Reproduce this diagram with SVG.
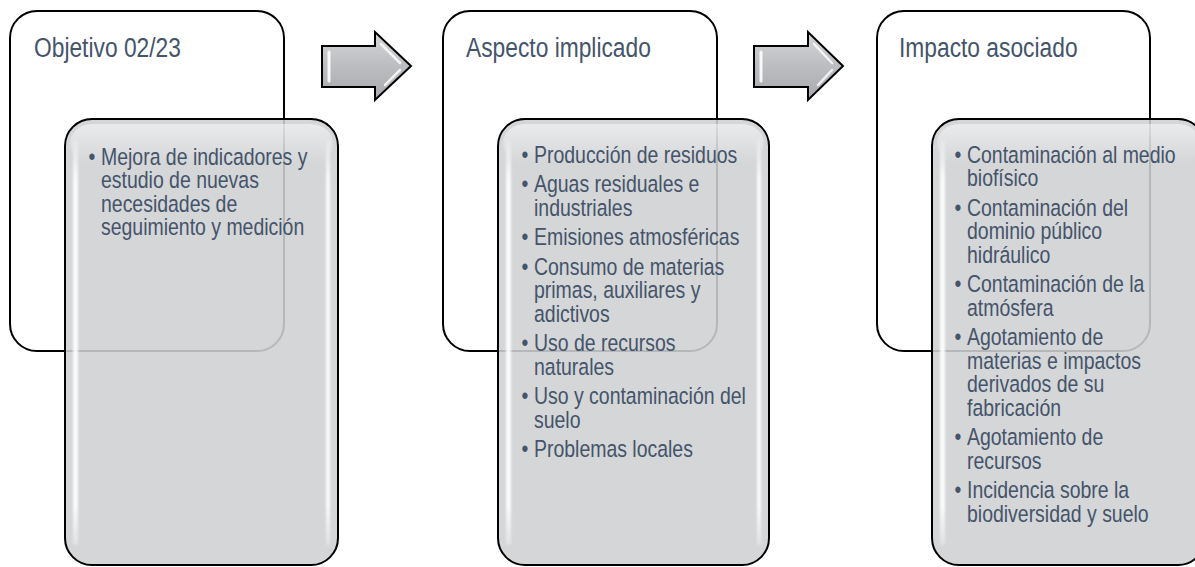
<svg xmlns="http://www.w3.org/2000/svg" width="1195" height="567" viewBox="0 0 1195 567">
<style>
.wbox{fill:#ffffff;stroke:#000000;stroke-width:2}
.gbox{fill:#cfd0d3;fill-opacity:0.88;stroke:#000000;stroke-width:2}
.title{font-family:"Liberation Sans",Arial,sans-serif;font-size:28px;fill:#44546a}
.body{font-family:"Liberation Sans",Arial,sans-serif;font-size:23.5px;fill:#44546a}
.arrow{fill:url(#ag);stroke:#000000;stroke-width:2;stroke-linejoin:miter}
</style>
<defs>
<linearGradient id="ag" x1="0" y1="0" x2="0" y2="1">
<stop offset="0" stop-color="#d6d7d9"/>
<stop offset="0.5" stop-color="#bcbdc0"/>
<stop offset="1" stop-color="#a9aaad"/>
</linearGradient>
<linearGradient id="vg" x1="0" y1="0" x2="0" y2="1">
<stop offset="0" stop-color="#ffffff" stop-opacity="0.2"/>
<stop offset="0.1" stop-color="#ffffff" stop-opacity="0.9"/>
<stop offset="0.9" stop-color="#ffffff" stop-opacity="0.9"/>
<stop offset="1" stop-color="#ffffff" stop-opacity="0.3"/>
</linearGradient>
<linearGradient id="tg" x1="0" y1="0" x2="0" y2="1">
<stop offset="0" stop-color="#ffffff" stop-opacity="0.5"/>
<stop offset="1" stop-color="#ffffff" stop-opacity="0"/>
</linearGradient>
<filter id="blur" x="-50%" y="-5%" width="200%" height="110%"><feGaussianBlur stdDeviation="1"/></filter>
</defs>

<g id="col1">
<rect class="wbox" x="10" y="11" width="274" height="340" rx="27"/>
<text class="title" transform="translate(34,57) scale(0.814,1)">Objetivo 02/23</text>
<rect class="gbox" x="65" y="119" width="273" height="446" rx="27"/>
<rect x="70" y="124" width="263" height="40" rx="22" fill="url(#tg)"/>
<rect x="73" y="140" width="5" height="405" rx="2.5" fill="url(#vg)" filter="url(#blur)"/>
<rect x="326" y="140" width="4" height="405" rx="2" fill="url(#vg)" filter="url(#blur)"/>
<g class="body" transform="translate(101,0) scale(0.828,1)">
<text x="-15" y="165">•</text><text x="0" y="165">Mejora de indicadores y</text>
<text x="0" y="188.5">estudio de nuevas</text>
<text x="0" y="212">necesidades de</text>
<text x="0" y="235.5">seguimiento y medición</text>
</g>
</g>

<g id="col2">
<rect class="wbox" x="443" y="11" width="274" height="340" rx="27"/>
<text class="title" transform="translate(466,57) scale(0.814,1)">Aspecto implicado</text>
<rect class="gbox" x="498" y="119" width="271" height="446" rx="27"/>
<rect x="503" y="124" width="261" height="40" rx="22" fill="url(#tg)"/>
<rect x="506" y="140" width="5" height="405" rx="2.5" fill="url(#vg)" filter="url(#blur)"/>
<rect x="757" y="140" width="4" height="405" rx="2" fill="url(#vg)" filter="url(#blur)"/>
<g class="body" transform="translate(534,0) scale(0.828,1)">
<text x="-15" y="163">•</text><text x="0" y="163">Producción de residuos</text>
<text x="-15" y="192.5">•</text><text x="0" y="192.5">Aguas residuales e</text>
<text x="0" y="216">industriales</text>
<text x="-15" y="245.5">•</text><text x="0" y="245.5">Emisiones atmosféricas</text>
<text x="-15" y="275">•</text><text x="0" y="275">Consumo de materias</text>
<text x="0" y="298.5">primas, auxiliares y</text>
<text x="0" y="322">adictivos</text>
<text x="-15" y="351.5">•</text><text x="0" y="351.5">Uso de recursos</text>
<text x="0" y="375">naturales</text>
<text x="-15" y="404.5">•</text><text x="0" y="404.5">Uso y contaminación del</text>
<text x="0" y="428">suelo</text>
<text x="-15" y="457.5">•</text><text x="0" y="457.5">Problemas locales</text>
</g>
</g>

<g id="col3">
<rect class="wbox" x="877" y="11" width="273" height="340" rx="27"/>
<text class="title" transform="translate(899,57) scale(0.814,1)">Impacto asociado</text>
<rect class="gbox" x="932" y="119" width="273" height="446" rx="27"/>
<rect x="937" y="124" width="263" height="40" rx="22" fill="url(#tg)"/>
<rect x="940" y="140" width="5" height="405" rx="2.5" fill="url(#vg)" filter="url(#blur)"/>
<g class="body" transform="translate(967,0) scale(0.828,1)">
<text x="-15" y="163">•</text><text x="0" y="163">Contaminación al medio</text>
<text x="0" y="186.5">biofísico</text>
<text x="-15" y="216">•</text><text x="0" y="216">Contaminación del</text>
<text x="0" y="239.5">dominio público</text>
<text x="0" y="263">hidráulico</text>
<text x="-15" y="292.5">•</text><text x="0" y="292.5">Contaminación de la</text>
<text x="0" y="316">atmósfera</text>
<text x="-15" y="345.5">•</text><text x="0" y="345.5">Agotamiento de</text>
<text x="0" y="369">materias e impactos</text>
<text x="0" y="392.5">derivados de su</text>
<text x="0" y="416">fabricación</text>
<text x="-15" y="445.5">•</text><text x="0" y="445.5">Agotamiento de</text>
<text x="0" y="469">recursos</text>
<text x="-15" y="498.5">•</text><text x="0" y="498.5">Incidencia sobre la</text>
<text x="0" y="522">biodiversidad y suelo</text>
</g>
</g>

<g id="connectors">
<g id="arrow1">
<path class="arrow" d="M322,46 L375,46 L375,32 L411,66 L375,100 L375,87 L322,87 Z"/>
<path d="M329,52 L329,81" stroke="#ffffff" stroke-width="3" stroke-linecap="round" opacity="0.9"/>
<path d="M381,44 L400,63 M385,85 L400,70" stroke="#ffffff" stroke-width="2.5" stroke-linecap="round" opacity="0.8"/>
</g>
<g id="arrow2">
<path class="arrow" d="M754,46 L808,46 L808,32 L843,66 L808,100 L808,87 L754,87 Z"/>
<path d="M761,52 L761,81" stroke="#ffffff" stroke-width="3" stroke-linecap="round" opacity="0.9"/>
<path d="M814,44 L832,63 M818,85 L832,70" stroke="#ffffff" stroke-width="2.5" stroke-linecap="round" opacity="0.8"/>
</g>
</g>
</svg>
